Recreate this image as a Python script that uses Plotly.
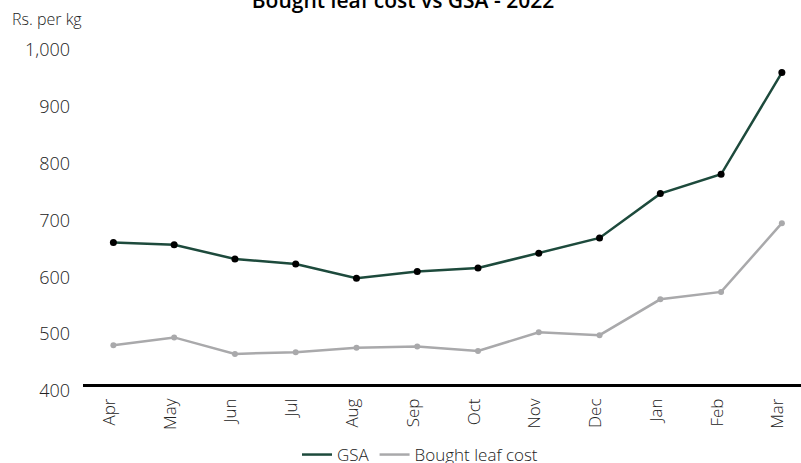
import plotly.graph_objects as go

# Monthly averages, Rs. per kg
months = ["Apr", "May", "Jun", "Jul", "Aug", "Sep", "Oct", "Nov", "Dec", "Jan", "Feb", "Mar"]
gsa = [649, 645, 620, 611, 586, 598, 604, 630, 657, 735, 769, 948]
bought_leaf_cost = [468, 482, 453, 456, 464, 466, 458, 491, 486, 549, 562, 683]
y_ticks = [400, 500, 600, 700, 800, 900, 1000]
y_tick_labels = ["400", "500", "600", "700", "800", "900", "1,000"]

GSA_COLOR = "#1d4a3c"
BLC_COLOR = "#a9a9ab"
TEXT_COLOR = "#222222"
FONT = "Open Sans"
W, H = 801, 463
M_L, M_R, M_T, M_B = 83, 0, 40, 79

fig = go.Figure()

# Lines (shown in legend)
fig.add_trace(go.Scatter(x=months, y=gsa, mode="lines", name="GSA",
                         line=dict(color=GSA_COLOR, width=2.5)))
fig.add_trace(go.Scatter(x=months, y=bought_leaf_cost, mode="lines", name="Bought leaf cost",
                         line=dict(color=BLC_COLOR, width=2.5)))
# Point markers
fig.add_trace(go.Scatter(x=months, y=gsa, mode="markers", showlegend=False,
                         marker=dict(color="#000000", size=7)))
fig.add_trace(go.Scatter(x=months, y=bought_leaf_cost, mode="markers", showlegend=False,
                         marker=dict(color=BLC_COLOR, size=6)))

plot_w = W - M_L - M_R
plot_h = H - M_T - M_B

fig.update_layout(
    width=W, height=H,
    margin=dict(l=M_L, r=M_R, t=M_T, b=M_B, autoexpand=False),
    paper_bgcolor="white", plot_bgcolor="white",
    font=dict(family=FONT, size=17, color=TEXT_COLOR, weight=300),
    title=dict(text="Bought leaf cost vs GSA - 2022", x=403 / W, xanchor="center",
               y=1 - 1 / H, yref="container", yanchor="middle",
               font=dict(family=FONT, size=21, color="#000000", weight=600)),
    showlegend=True,
    legend=dict(orientation="h", x=(420 - M_L) / plot_w, xanchor="center",
                y=(384 - 455) / plot_h, yanchor="middle",
                font=dict(family=FONT, size=17, color=TEXT_COLOR, weight=300),
                bgcolor="rgba(0,0,0,0)"),
    xaxis=dict(type="category", range=[-0.5, 11.315], showgrid=False, zeroline=False,
               showline=True, linecolor="#000000", linewidth=2.5,
               tickangle=-90, ticks="", ticklabelstandoff=5, ticklabelshift=-4,
               tickfont=dict(family=FONT, size=17, color=TEXT_COLOR, weight=300)),
    yaxis=dict(range=[400, 400 + plot_h / 0.5683], showgrid=False, zeroline=False,
               showline=False, tickvals=y_ticks, ticktext=y_tick_labels,
               ticks="", ticklabelstandoff=12, ticklabelshift=7,
               tickfont=dict(family=FONT, size=18, color=TEXT_COLOR, weight=300)),
    annotations=[dict(text="Rs. per kg", xref="paper", yref="paper",
                      x=(10 - M_L) / plot_w, xanchor="left",
                      y=1 + (M_T - 19) / plot_h, yanchor="middle", showarrow=False,
                      font=dict(family=FONT, size=16, color=TEXT_COLOR, weight=300))],
)

fig.write_html("out.html")
